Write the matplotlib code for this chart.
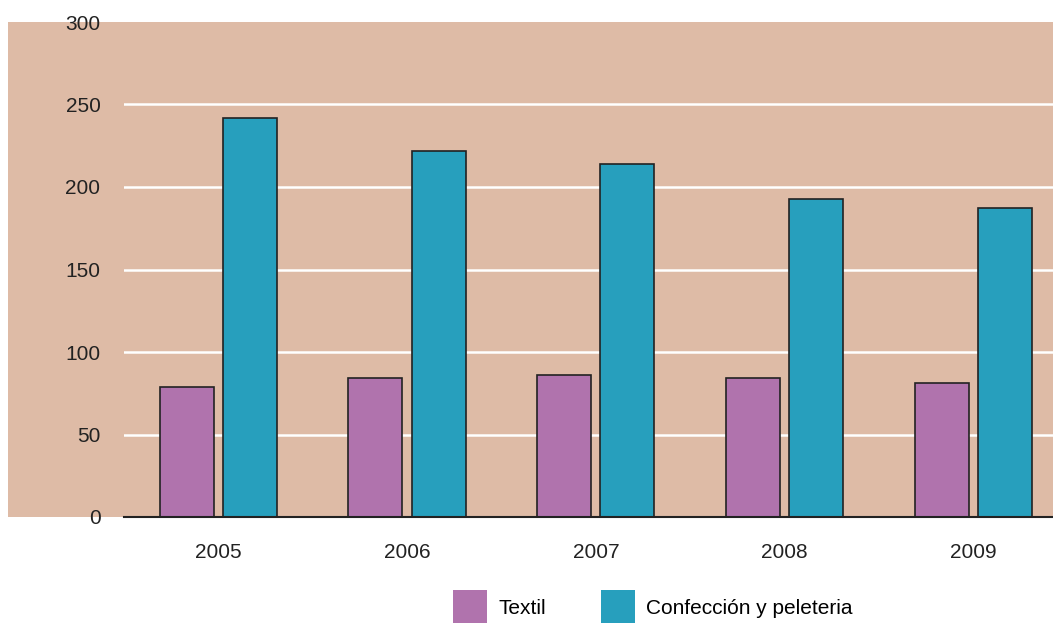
import numpy as np
import matplotlib.pyplot as plt
from matplotlib.patches import Rectangle

# Datos
years = ["2005", "2006", "2007", "2008", "2009"]
textil = [79, 84, 86, 84, 81]
confeccion = [242, 222, 214, 193, 187]
labels = ["Textil", "Confección y peleteria"]

plt.rcParams['font.family'] = ['Liberation Sans', 'DejaVu Sans']

W, H = 1053, 623
fig = plt.figure(figsize=(W / 100, H / 100), dpi=100)

ax = fig.add_axes([124 / W, (H - 517) / H, 929 / W, 495 / H])
ax.set_facecolor("none")

# tan background panel (extends left behind the y labels)
ax.add_patch(Rectangle((8 / W, (H - 517) / H), (1053 - 8) / W, (517 - 22) / H,
                       transform=fig.transFigure, facecolor="#debba6",
                       edgecolor="none", zorder=0, clip_on=False))

x = np.arange(len(years))
w = 0.286
off = 0.167
b1 = ax.bar(x - off, textil, w, color="#b073ad", edgecolor="#222222", linewidth=1.2,
            label=labels[0], zorder=3)
b2 = ax.bar(x + off, confeccion, w, color="#279fbd", edgecolor="#222222", linewidth=1.2,
            label=labels[1], zorder=3)

ax.set_xlim(-0.498, 4.42)
ax.set_ylim(0, 300)
ax.set_yticks(range(0, 301, 50))
ax.set_xticks(x)
ax.set_xticklabels(years)
ax.tick_params(axis="both", length=0, labelsize=15, colors="#222222")
ax.tick_params(axis="y", pad=17)
ax.tick_params(axis="x", pad=19)

for v in range(50, 300, 50):
    ax.axhline(v, color="white", linewidth=1.8, zorder=1)

for s in ["top", "right", "left"]:
    ax.spines[s].set_visible(False)
ax.spines["bottom"].set_color("#222222")
ax.spines["bottom"].set_linewidth(1.5)
ax.spines["bottom"].set_zorder(4)

fig.legend(handles=[b1, b2], labels=labels, loc="center", bbox_to_anchor=(653 / W, 16 / H),
           ncol=2, frameon=False, fontsize=15, handlelength=1.65, handleheight=2.1,
           handletextpad=0.55, columnspacing=2.6)
for h in fig.legends[0].legend_handles:
    h.set_edgecolor("none")

fig.savefig("out.png", dpi=100)
